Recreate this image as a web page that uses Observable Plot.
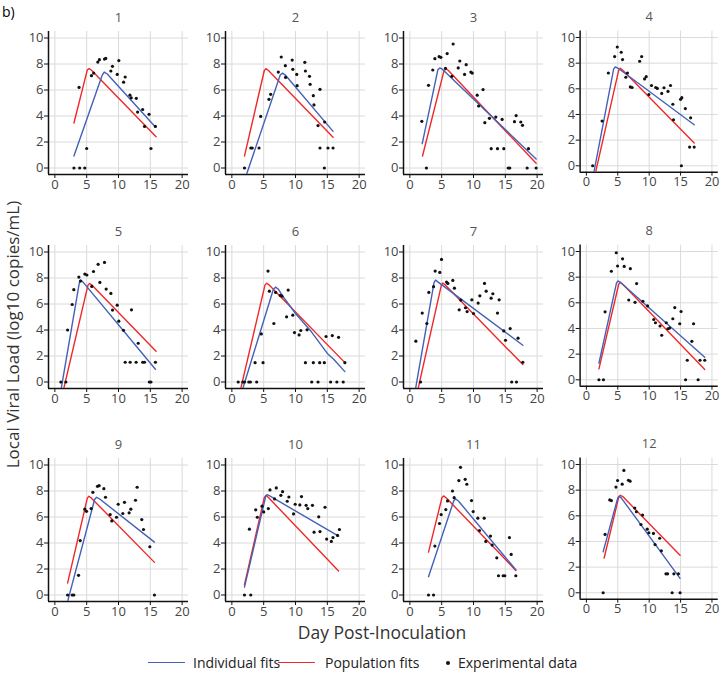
<!DOCTYPE html>
<html>
<head>
<meta charset="utf-8">
<script src="https://cdn.jsdelivr.net/npm/d3@7"></script>
<script src="https://cdn.jsdelivr.net/npm/@observablehq/plot@0.6"></script>
<style>
  body { margin: 0; background: #fff; }
  #root { position: relative; width: 722px; height: 684px; overflow: hidden; font-family: "Open Sans", sans-serif; }
  .abs { position: absolute; white-space: nowrap; }
  .abs svg { display: block; }
</style>
</head>
<body>
<div id="root"></div>
<script>
// ---------- data ----------
const panelIds = ["1","2","3","4","5","6","7","8","9","10","11","12"];
const xTicks = [0, 5, 10, 15, 20];
const yTicks = [0, 2, 4, 6, 8, 10];
const legendLabels = ["Individual fits", "Population fits", "Experimental data"];

const obs1 = [[3,0],[3.9,0],[4.7,0],[3.8,6.2],[5,1.5],[5.75,7.1],[6.1,7.3],[6.75,8.15],[7,8.33],[7.8,8.38],[8,8.43],[8.8,7.46],[9.05,7.82],[9.8,7.2],[10.05,8.26],[10.8,6.6],[11.05,7],[11.8,5.6],[12,5.4],[12.8,5.36],[13,4.3],[13.8,4.5],[14.1,3.2],[14.8,4.13],[15.1,1.5],[15.8,3.2]];
const ind1 = [[3,0.92],[7.45,7.15],[7.75,7.38],[8.2,7.25],[15.8,3.15]];
const pop1 = [[3,3.46],[5.1,7.55],[5.4,7.65],[5.8,7.5],[15.9,2.41]];

const obs2 = [[1.98,0],[2.97,1.54],[3.2,1.54],[4.27,1.54],[4.53,3.97],[5.83,5.28],[6.1,5.67],[7.3,7.38],[7.76,8.54],[8.4,7.87],[8.44,6.97],[9.48,8.3],[9.58,7.59],[10.2,7.2],[10.26,6.33],[11.46,8.13],[11.56,7.46],[12.2,7.05],[12.3,6.44],[12.8,5.56],[12.9,4.85],[13.54,3.26],[13.85,6.05],[13.85,1.54],[14.53,0],[14.58,3.54],[15.1,1.54],[15.9,1.54]];
const ind2 = [[2.3,-0.5],[7.6,7.15],[7.95,7.3],[8.4,7.15],[15.9,2.82]];
const pop2 = [[1.98,0.92],[5.1,7.5],[5.36,7.64],[5.75,7.5],[15.9,2.36]];

const obs3 = [[1.88,3.59],[2.6,0],[2.93,6.36],[3.6,7.54],[3.93,8.41],[4.6,8.56],[4.87,8.51],[5.6,7.67],[5.86,8.8],[6.6,7.05],[6.8,9.54],[7.6,7.7],[7.85,8.23],[8.6,7.2],[8.85,7.95],[9.58,7.38],[9.8,7.3],[10.58,5.6],[10.8,4.77],[11.5,6.03],[11.78,3.49],[12.5,3.82],[12.78,1.49],[13.5,3.92],[13.77,1.49],[14.5,3.74],[14.76,1.49],[15.45,0],[15.7,0],[16.44,3.56],[16.7,4.03],[17.43,3.54],[17.7,3.28],[18.43,0],[18.64,1.49],[19.84,0]];
const ind3 = [[1.94,1.87],[4.4,7.55],[4.7,7.7],[5.1,7.6],[19.84,0.69]];
const pop3 = [[1.99,0.92],[5.35,7.45],[5.65,7.62],[6.05,7.5],[19.84,0.36]];

const obs4 = [[1,0],[2.5,3.49],[3.5,7.23],[4.5,8.51],[4.92,9.26],[5.55,8.85],[5.76,8.28],[6.28,6.9],[6.54,7.23],[7,6.15],[7.28,6.1],[8.48,8.15],[8.8,8.51],[9.27,6.77],[9.53,6.95],[9.95,5.56],[10.37,6.26],[11.05,6.1],[11.3,6.03],[12,5.64],[12.36,6.08],[13,5.8],[13.4,6.26],[13.77,4.8],[13.87,3.59],[15,5.18],[15.2,5.31],[15.13,0],[15.76,4.46],[16.44,1.46],[16.6,3.74],[17.17,1.46]];
const ind4 = [[1.2,-0.5],[4.35,7.55],[4.6,7.7],[5,7.62],[17.17,3.2]];
const pop4 = [[1.47,-0.5],[5.15,7.45],[5.4,7.6],[5.8,7.45],[17.17,1.77]];

const obs5 = [[0.94,0],[1.73,0],[2,4],[2.72,5.96],[2.98,7.1],[3.77,8.07],[4.03,7.76],[4.71,8.3],[5.03,8.23],[5.8,7.35],[6.07,8.5],[6.8,9.05],[7.07,7.66],[7.8,9.2],[8.06,7.15],[8.8,6.81],[9.06,5.53],[9.8,5.91],[10.05,4.68],[10.78,3.98],[11.05,1.52],[11.83,1.52],[12.04,5.55],[12.77,1.52],[13.1,2.98],[13.8,1.52],[14.08,1.52],[14.85,0],[15.1,0],[15.8,1.52]];
const ind5 = [[1,-0.5],[3.85,7.65],[4.05,7.84],[4.4,7.7],[15.8,0.98]];
const pop5 = [[1.4,-0.5],[5.2,7.45],[5.45,7.58],[5.85,7.45],[15.9,2.37]];

const obs6 = [[1,0],[1.72,0],[1.98,0],[2.66,0],[2.92,0],[3.65,1.49],[3.9,0],[4.63,3.7],[4.9,1.49],[5.68,8.53],[5.89,6.99],[6.6,4.5],[6.88,6.89],[7.6,6.66],[7.87,6.6],[8.6,5.01],[8.85,7.07],[9.58,5.14],[9.84,3.8],[10.57,3.62],[10.83,3.96],[11.56,1.49],[11.82,4.01],[12.55,0],[12.8,1.49],[13.54,0],[13.8,1.49],[14.53,1.49],[14.8,3.5],[15.52,0],[15.78,3.57],[16.5,0],[16.77,3.44],[17.5,0],[17.76,1.49]];
const ind6 = [[1.72,-0.5],[6.5,7.1],[6.85,7.3],[7.3,7.15],[8,6.6],[10,5.27],[12.5,3.86],[15,2.2],[16,1.75],[17.76,0.8]];
const pop6 = [[1.4,-0.5],[5.2,7.45],[5.47,7.6],[5.9,7.45],[17.76,1.49]];

const obs7 = [[0.94,3.14],[1.68,0],[1.94,5.3],[2.67,4.5],[2.98,6.89],[3.72,7.33],[3.98,8.53],[4.71,8.43],[4.97,9.43],[5.76,7.69],[5.97,7.58],[6.75,7.81],[7,7.22],[7.75,5.55],[8,6.3],[8.74,5.71],[9,5.42],[9.74,6.32],[10,5.27],[10.73,6.07],[11,6.63],[11.73,7.58],[11.99,6.99],[12.77,6.45],[13.04,6.79],[13.77,5.3],[14.03,6.32],[14.76,3.93],[15.03,3.21],[15.76,4.11],[16,0],[16.75,0],[17,3.37],[17.75,1.52]];
const ind7 = [[0.9,-0.5],[3.8,7.65],[4.03,7.84],[4.4,7.7],[17.75,2.83]];
const pop7 = [[1.3,-0.5],[4.95,7.45],[5.18,7.61],[5.6,7.45],[17.75,1.34]];

const obs8 = [[2,0],[2.72,0],[2.98,5.3],[3.98,8.46],[4.76,9.9],[4.97,8.87],[5.76,9.43],[6.02,8.84],[6.75,6.22],[7,8.66],[7.75,6.04],[8,7.5],[9,6.12],[9.74,5.76],[10.73,4.7],[11,4.45],[11.73,4.19],[12,3.47],[12.72,4.45],[12.98,3.98],[13.25,4.03],[13.77,4.76],[14.08,5.63],[14.87,4.37],[15.08,5.32],[15.8,0],[16.07,1.52],[16.8,3],[17.07,4.37],[17.8,0],[18.1,1.52],[18.85,1.52]];
const ind8 = [[2,1.29],[4.8,7.55],[5.03,7.71],[5.4,7.6],[18.85,1.75]];
const pop8 = [[2,0.85],[5.15,7.45],[5.4,7.6],[5.8,7.45],[18.85,0.8]];

const obs9 = [[2,0],[2.72,0],[2.98,0],[3.72,1.51],[3.98,4.19],[4.71,6.6],[4.97,6.44],[5.7,6.65],[5.97,7.9],[6.7,8.36],[6.96,8.41],[7.7,8.18],[7.96,7.52],[8.69,6.19],[8.95,5.7],[9.69,5.98],[9.95,6.98],[10.68,6.27],[10.94,7.13],[11.67,6.32],[11.94,6.6],[12.67,7.29],[12.93,8.29],[13.66,5.8],[13.93,5.04],[14.92,3.71],[15.65,0]];
const ind9 = [[2,-0.5],[6.25,7.35],[6.55,7.52],[7,7.4],[15.65,4.07]];
const pop9 = [[2,0.92],[5.1,7.45],[5.34,7.6],[5.75,7.45],[15.65,2.51]];

const obs10 = [[1.98,0],[2.76,5.06],[2.97,0],[3.75,6.55],[4,5.98],[4.74,6.83],[5,6.39],[5.73,6.65],[5.99,8.08],[6.72,7.39],[6.98,8.24],[7.7,7.67],[7.97,7.95],[8.7,7.21],[8.96,7.54],[9.69,6.24],[9.95,6.98],[10.68,6.93],[10.94,7.57],[11.67,6.9],[11.93,6.65],[12.66,6.9],[12.92,4.83],[13.65,6.01],[13.85,4.88],[14.64,6.75],[14.9,4.3],[15.63,4.12],[15.89,4.42],[16.6,4.58],[16.9,5.04]];
const ind10 = [[1.98,0.61],[5.3,7.55],[5.52,7.72],[5.95,7.62],[16.77,4.53]];
const pop10 = [[1.98,0.79],[5.1,7.5],[5.36,7.65],[5.75,7.5],[16.77,1.84]];

const obs11 = [[2.93,0],[3.72,0],[3.93,3.76],[4.66,5.5],[4.92,6.19],[5.65,6.57],[5.92,7.24],[6.7,8],[6.96,7.49],[7.7,8.8],[7.96,9.82],[8.69,8.9],[8.95,8.52],[9.69,7.26],[9.95,6.42],[10.68,5.91],[10.94,4.96],[11.68,5.91],[11.94,4.12],[12.67,4.53],[12.93,3.84],[13.66,2.86],[13.93,1.48],[14.66,1.48],[14.92,1.48],[15.65,4.42],[15.92,3.12],[16.65,1.48]];
const ind11 = [[2.93,1.41],[6.9,7.25],[7.17,7.39],[7.6,7.25],[16.65,1.94]];
const pop11 = [[2.93,3.3],[5.05,7.5],[5.29,7.62],[5.7,7.48],[16.65,1.89]];

const obs12 = [[2.67,0],[2.98,4.55],[3.72,7.24],[3.98,7.19],[4.71,8.24],[4.97,8.75],[5.7,8.47],[5.97,9.54],[6.7,8.77],[6.96,8.7],[7.7,6.6],[7.96,6.32],[8.69,5.32],[8.95,6.06],[9.69,4.96],[9.95,4.68],[10.68,4.63],[10.94,3.76],[11.67,4.25],[11.94,3.27],[12.67,1.48],[12.93,1.48],[13.66,0],[13.93,1.48],[14.66,1.48],[14.92,0]];
const ind12 = [[2.67,3.2],[5,7.4],[5.2,7.52],[5.55,7.4],[14.92,1.13]];
const pop12 = [[2.83,2.71],[5.15,7.45],[5.4,7.6],[5.8,7.5],[14.92,2.92]];

const obsAll = [obs1,obs2,obs3,obs4,obs5,obs6,obs7,obs8,obs9,obs10,obs11,obs12];
const indAll = [ind1,ind2,ind3,ind4,ind5,ind6,ind7,ind8,ind9,ind10,ind11,ind12];
const popAll = [pop1,pop2,pop3,pop4,pop5,pop6,pop7,pop8,pop9,pop10,pop11,pop12];

// ---------- style / layout ----------
const FONT = '"Open Sans", sans-serif';
const BLUE = "#4361b8";
const RED = "#f02828";
const colLeft = [47.7, 225.3, 403, 580.3];
const rowTop = [31.2, 244.8, 457.8];
const ML = 30, MT = 30, PW = 140, PH = 143;

const root = document.getElementById("root");
function place(el, left, top) {
  const d = document.createElement("div");
  d.className = "abs";
  d.style.left = left + "px";
  d.style.top = top + "px";
  d.appendChild(el);
  root.appendChild(d);
  return d;
}
function label(text, left, top, css) {
  const d = document.createElement("div");
  d.className = "abs";
  d.textContent = text;
  d.style.left = left + "px";
  d.style.top = top + "px";
  Object.assign(d.style, css || {});
  root.appendChild(d);
  return d;
}

function panel(id, obs, ind, pop) {
  return Plot.plot({
    width: ML + PW + 4, height: MT + PH + 24,
    marginLeft: ML, marginRight: 4, marginTop: MT, marginBottom: 24,
    x: {domain: [-1, 21]},
    y: {domain: [-0.5, 10.5]},
    style: {fontFamily: FONT, fontSize: "13px", background: "transparent", overflow: "visible"},
    marks: [
      Plot.gridX(xTicks, {stroke: "#dadada", strokeOpacity: 1}),
      Plot.gridY(yTicks, {stroke: "#dadada", strokeOpacity: 1}),
      Plot.axisX(xTicks, {tickSize: 4, tickPadding: 1, stroke: "#111", fill: "#444", label: null, fontSize: 13}),
      Plot.axisY(yTicks, {tickSize: 4, tickPadding: 1, stroke: "#111", fill: "#444", label: null, fontSize: 13}),
      Plot.ruleX([-1], {stroke: "#111", strokeWidth: 1.5}),
      Plot.ruleY([-0.5], {stroke: "#111", strokeWidth: 1.5}),
      Plot.line(pop, {x: d => d[0], y: d => d[1], stroke: RED, strokeWidth: 1.4, clip: true}),
      Plot.line(ind, {x: d => d[0], y: d => d[1], stroke: BLUE, strokeWidth: 1.4, clip: true}),
      Plot.dot(obs, {x: d => d[0], y: d => d[1], r: 1.6, fill: "#111", stroke: null}),
      Plot.text([id], {frameAnchor: "top", dy: -19, fontSize: 13, fill: "#555"})
    ]
  });
}

panelIds.forEach((id, i) => {
  const c = i % 4, r = Math.floor(i / 4);
  place(panel(id, obsAll[i], indAll[i], popAll[i]), colLeft[c] - ML, rowTop[r] - MT);
});

// text outside the panels
label("b)", 2, 2, {fontSize: "14px", color: "#000"});
label("Day Post-Inoculation", 232, 620, {width: "300px", textAlign: "center", fontSize: "17.5px", color: "#333"});
label("Local Viral Load (log10 copies/mL)", -188, 323, {width: "400px", textAlign: "center", fontSize: "17px", color: "#333", transform: "rotate(-90deg)", transformOrigin: "50% 50%"});

// legend
function swatchLine(color, left) {
  const d = document.createElement("div");
  d.className = "abs";
  Object.assign(d.style, {left: left + "px", top: "662px", width: "37px", height: "0", borderTop: "1.5px solid " + color});
  root.appendChild(d);
}
swatchLine(BLUE, 148);
label(legendLabels[0], 193, 653, {fontSize: "14px", color: "#222"});
swatchLine(RED, 278);
label(legendLabels[1], 325, 653, {fontSize: "14px", color: "#222"});
const dot = document.createElement("div");
dot.className = "abs";
Object.assign(dot.style, {left: "446px", top: "661px", width: "4px", height: "4px", borderRadius: "50%", background: "#111"});
root.appendChild(dot);
label(legendLabels[2], 458, 653, {fontSize: "14px", color: "#222"});
</script>
</body>
</html>
